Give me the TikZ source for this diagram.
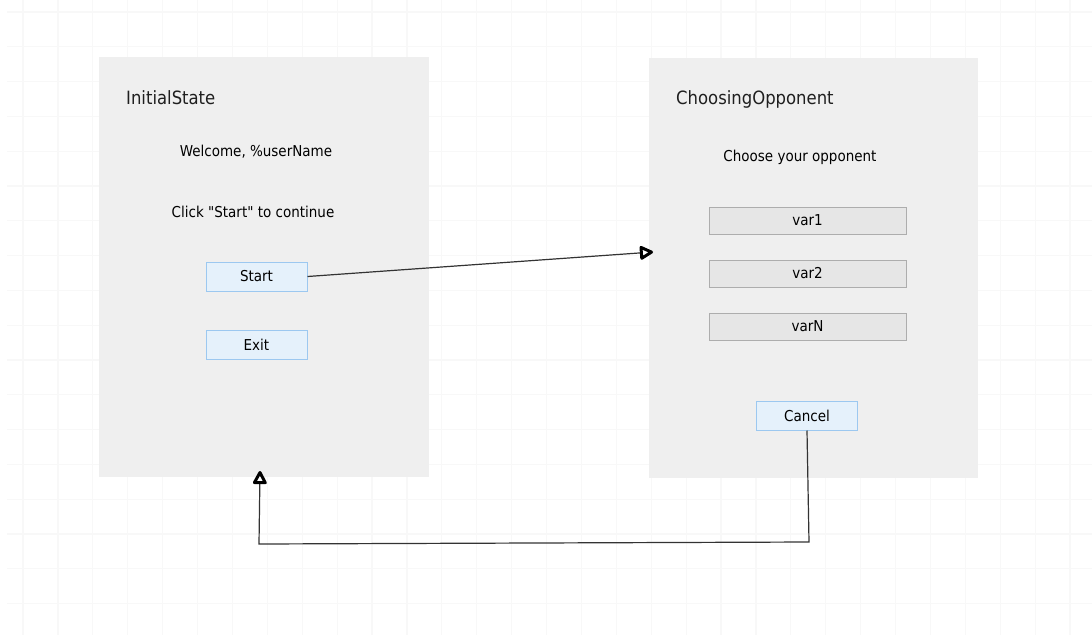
\documentclass[tikz,border=0pt]{standalone}
\usepackage{fontspec}
\setmainfont{DejaVu Sans Condensed}[Ligatures=TeXOff]
\usetikzlibrary{arrows.meta}
\definecolor{panelfill}{HTML}{EFEFEF}
\definecolor{gridline}{HTML}{F8F8F8}
\definecolor{btnfill}{HTML}{E5F1FB}
\definecolor{btnedge}{HTML}{9CC8F0}
\definecolor{itemfill}{HTML}{E6E6E6}
\definecolor{itemedge}{HTML}{ADADAD}
\definecolor{wire}{HTML}{333333}
\tikzset{
  panel/.style={fill=panelfill, draw=none, anchor=north west, inner sep=0pt},
  title/.style={anchor=west, inner sep=0pt, font=\fontsize{18.3}{22}\selectfont, text=black!88},
  caption/.style={font=\fontsize{15}{18}\selectfont, text=black},
  bluebtn/.style={fill=btnfill, draw=btnedge, line width=1pt, minimum width=101pt, minimum height=29pt, inner sep=0pt, font=\fontsize{15}{18}\selectfont},
  listitem/.style={fill=itemfill, draw=itemedge, line width=1pt, minimum width=197pt, minimum height=27pt, inner sep=0pt, font=\fontsize{15}{18}\selectfont},
  tiphead/.tip={Triangle[open, round, length=15pt, width=15pt, line width=3pt, color=black]},
  link/.style={draw=wire, line width=1.2pt, -tiphead}
}
\begin{document}
\begin{tikzpicture}[x=1pt, y=-1pt]
  \useasboundingbox (0,0) rectangle (1092,635);
  \fill[white] (0,0) rectangle (1092,635);
  % background grid
  \foreach \k in {0,...,30} {
    \draw[gridline, line width=1.2pt] ({23+34.9*\k},0) -- ({23+34.9*\k},635);
  }
  \foreach \k in {0,...,17} {
    \draw[gridline, line width=1.2pt] (7,{12+34.8*\k}) -- (1092,{12+34.8*\k});
  }

  % left screen
  \node[panel, minimum width=330pt, minimum height=420pt] (initial) at (99,57) {};
  \node[title] (initialTitle) at (126,98) {InitialState};
  \node[caption] (welcome) at (256,152) {Welcome, \%userName};
  \node[caption] (clickhint) at (253,212) {Click "Start" to continue};
  \node[bluebtn] (start) at (256.5,276.5) {Start};
  \node[bluebtn] (exit) at (256.5,344.5) {Exit};

  % right screen
  \node[panel, minimum width=329pt, minimum height=420pt] (choosing) at (649,58) {};
  \node[title] (choosingTitle) at (676,99) {ChoosingOpponent};
  \node[caption] (choose) at (800,157) {Choose your opponent};
  \node[listitem] (var1) at (807.5,220.5) {var1};
  \node[listitem] (var2) at (807.5,273.5) {var2};
  \node[listitem] (varN) at (807.5,326.5) {varN};
  \node[bluebtn] (cancel) at (807,415.5) {Cancel};

  % transitions
  \coordinate (startTarget) at (653,252);
  \coordinate (backTip) at (260,471);
  \coordinate (cornerR) at (809,542);
  \coordinate (cornerL) at (259,544);
  \draw[link] (start.east) -- (startTarget);
  \draw[link] (cancel.south) -- (cornerR) -- (cornerL) -- (backTip);
\end{tikzpicture}
\end{document}
